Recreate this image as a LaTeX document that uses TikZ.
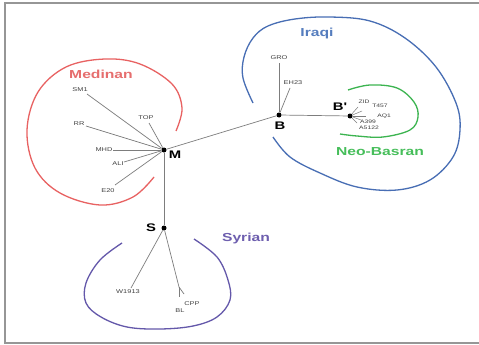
\documentclass[tikz,border=0pt]{standalone}
\usepackage{fontspec}
\newfontfamily\wsans[FakeStretch=1.35]{Liberation Sans}
\definecolor{medred}{RGB}{232,98,98}
\definecolor{medlab}{RGB}{230,110,110}
\definecolor{iraqblue}{RGB}{72,110,180}
\definecolor{iraqlab}{RGB}{85,125,190}
\definecolor{neogreen}{RGB}{60,180,80}
\definecolor{neolab}{RGB}{70,190,90}
\definecolor{syrpurple}{RGB}{100,88,170}
\definecolor{syrlab}{RGB}{110,95,175}
\definecolor{edgegray}{RGB}{125,125,125}
\definecolor{framegray}{RGB}{150,150,150}
\tikzset{
  hub/.style={circle,fill=black,inner sep=0pt,minimum size=5pt},
  hublab/.style={font=\wsans\fontsize{11}{12}\selectfont\bfseries,inner sep=0pt},
  leaf/.style={font=\wsans\fontsize{5.5}{6}\selectfont,text=black!75,inner sep=0pt},
  edge/.style={draw=edgegray,line width=0.7pt},
  grouplab/.style={font=\wsans\fontsize{11.6}{12}\selectfont\bfseries,inner sep=0pt},
  grp/.style={line width=1.3pt}
}
\begin{document}
\begin{tikzpicture}[x=1pt,y=-1pt]
\useasboundingbox (0,0) rectangle (479,345);
\fill[white] (0,0) rectangle (479,345);
\draw[framegray,line width=2pt] (485,3) -- (5,3) -- (5,343) -- (485,343);

% group curves
\draw[medred,grp] plot[smooth,tension=0.6] coordinates {(176,131) (182,108) (172,84) (140,64) (105,59) (66,67) (38,92) (27,130) (35,168) (60,193) (100,205) (133,197) (154,177)};
\draw[iraqblue,grp] plot[smooth,tension=0.6] coordinates {(253,103) (243,78) (244,57) (253,38) (268,26) (295,19) (330,17) (370,21) (405,38) (436,67) (456,103) (460,130) (453,157) (430,180) (397,190) (357,187) (320,173) (290,157) (273,137)};
\draw[neogreen,grp] plot[smooth,tension=0.6] coordinates {(348,90) (370,85) (397,88) (414,102) (418,117) (410,130) (383,137) (357,136) (340,134)};
\draw[syrpurple,grp] plot[smooth,tension=0.6] coordinates {(122,243) (100,260) (86,283) (86,303) (101,317) (127,327) (160,329) (193,326) (217,317) (230,300) (228,280) (217,257) (194,239)};

% group labels
\node[grouplab,text=medlab] (lmed) at (101,74) {Medinan};
\node[grouplab,text=iraqlab] (liraq) at (317,34) {Iraqi};
\node[grouplab,text=neolab] (lneo) at (380,152) {Neo-Basran};
\node[grouplab,text=syrlab] (lsyr) at (246,238) {Syrian};

% hubs
\node[hub] (M) at (164,150) {};
\node[hub] (B) at (279,115) {};
\node[hub] (Bp) at (350,116) {};
\node[hub] (S) at (164,228) {};
\node[hublab] (lM) at (175,155) {M};
\node[hublab] (lB) at (280,126) {B};
\node[hublab] (lBp) at (340,107) {B'};
\node[hublab] (lS) at (151,228) {S};

% backbone
\draw[edge] (M) -- (B);
\draw[edge] (B) -- (Bp);
\draw[edge] (M) -- (S);

% Medinan leaves
\coordinate (eSM1) at (87,94);
\coordinate (eTOP) at (149,123);
\coordinate (eRR) at (86,126);
\coordinate (eMHD) at (113,150);
\coordinate (eALI) at (124,162);
\coordinate (eE20) at (115,185);
\foreach \e in {eSM1,eTOP,eRR,eMHD,eALI,eE20} \draw[edge] (M) -- (\e);
\node[leaf] (SM1) at (80,90) {SM1};
\node[leaf] (TOP) at (146,118) {TOP};
\node[leaf] (RR) at (79,124) {RR};
\node[leaf] (MHD) at (104,150) {MHD};
\node[leaf] (ALI) at (118,164) {ALI};
\node[leaf] (E20) at (108,191) {E20};

% Iraqi leaves
\coordinate (eGRO) at (279,63);
\coordinate (eEH23) at (290,88);
\draw[edge] (B) -- (eGRO);
\draw[edge] (B) -- (eEH23);
\node[leaf] (GRO) at (279,58) {GRO};
\node[leaf] (EH23) at (293,83) {EH23};

% Neo-Basran leaves
\coordinate (eZID) at (358,107);
\coordinate (eT457) at (362,111);
\coordinate (eAQ1) at (366,116);
\coordinate (eA399) at (361,120);
\coordinate (eA5122) at (357,123);
\foreach \e in {eZID,eT457,eAQ1,eA399,eA5122} \draw[edge,line width=0.5pt] (Bp) -- (\e);
\node[leaf,font=\wsans\fontsize{5}{6}\selectfont] (ZID) at (364,102) {ZID};
\node[leaf,font=\wsans\fontsize{5}{6}\selectfont] (T457) at (380,106) {T457};
\node[leaf,font=\wsans\fontsize{5}{6}\selectfont] (AQ1) at (384,116) {AQ1};
\node[leaf,font=\wsans\fontsize{5}{6}\selectfont] (A399) at (368,122) {A399};
\node[leaf,font=\wsans\fontsize{5}{6}\selectfont] (A5122) at (369,128) {A5122};

% Syrian leaves
\coordinate (eW) at (131,288);
\coordinate (eSplit) at (179,287);
\coordinate (eBL) at (179,297);
\coordinate (eCPP) at (184,294);
\draw[edge] (S) -- (eW);
\draw[edge] (S) -- (eSplit);
\draw[edge] (eSplit) -- (eBL);
\draw[edge] (eSplit) -- (eCPP);
\node[leaf] (W1913) at (128,292) {W1913};
\node[leaf] (CPP) at (192,304) {CPP};
\node[leaf] (BL) at (180,311) {BL};
\end{tikzpicture}
\end{document}
